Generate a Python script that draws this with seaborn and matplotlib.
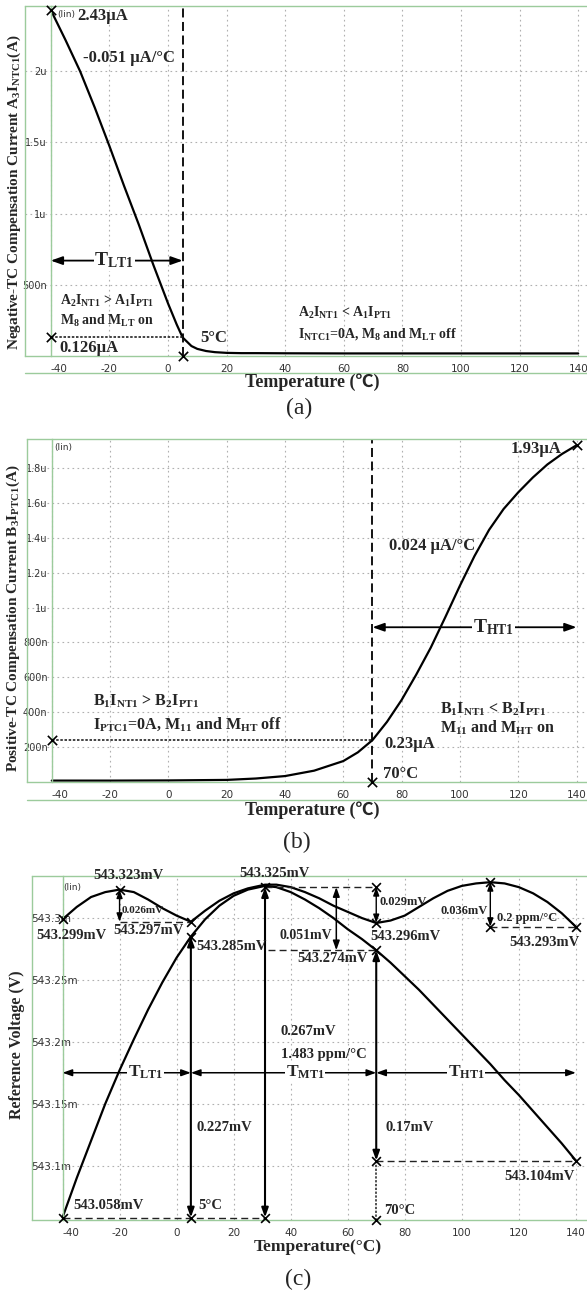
import matplotlib
matplotlib.use("Agg")
import matplotlib.pyplot as plt
import seaborn as sns
from matplotlib.lines import Line2D
from matplotlib.ticker import AutoMinorLocator

# ---------------- data ----------------
xticks = [-40, -20, 0, 20, 40, 60, 80, 100, 120, 140]
xlabels = ['-40', '-20', '0', '20', '40', '60', '80', '100', '120', '140']

# (a) negative-TC compensation current, uA
temp_a = [-40, -35, -30, -25, -20, -15, -10, -5, 0, 3, 5, 8, 10, 13, 16, 20, 25, 30, 40, 60, 80, 100, 120, 140]
ntc_a = [2.43, 2.22, 2.00, 1.745, 1.475, 1.195, 0.925, 0.64, 0.37, 0.22, 0.13, 0.07, 0.05, 0.035, 0.027, 0.022,
         0.02, 0.02, 0.019, 0.018, 0.018, 0.018, 0.018, 0.018]
mark_t_a = [-40, -40, 5]
mark_i_a = [2.43, 0.13, 0.0]
yticks_a = [0.5, 1.0, 1.5, 2.0]
ylabels_a = ['500n', '1u', '1.5u', '2u']

# (b) positive-TC compensation current, uA
temp_b = [-40, -20, 0, 20, 30, 40, 50, 60, 65, 70, 75, 80, 85, 90, 95, 100, 105, 110, 115, 120, 125, 130, 135, 140]
ptc_b = [0.008, 0.008, 0.009, 0.012, 0.02, 0.034, 0.065, 0.12, 0.17, 0.24, 0.345, 0.47, 0.615, 0.77, 0.945,
         1.125, 1.295, 1.445, 1.565, 1.66, 1.745, 1.82, 1.88, 1.93]
mark_t_b = [140, -40, 70]
mark_i_b = [1.93, 0.24, 0.0]
yticks_b = [0.2, 0.4, 0.6, 0.8, 1.0, 1.2, 1.4, 1.6, 1.8]
ylabels_b = ['200n', '400n', '600n', '800n', '1u', '1.2u', '1.4u', '1.6u', '1.8u']

# (c) reference voltage, mV
temp_c = [-40, -35, -30, -25, -20, -15, -10, -5, 0, 5, 10, 15, 20, 25, 31, 35, 40, 45, 50, 55, 60, 65, 70,
          75, 80, 85, 90, 95, 100, 105, 110, 115, 120, 125, 130, 135, 140]
vref_uncomp = [543.058, 543.090, 543.120, 543.150, 543.177, 543.202, 543.226, 543.248, 543.268, 543.285,
               543.299, 543.310, 543.318, 543.323, 543.326, 543.325, 543.321, 543.315, 543.308, 543.300,
               543.291, 543.283, 543.274, 543.264, 543.253, 543.242, 543.230, 543.218, 543.206, 543.194,
               543.182, 543.169, 543.157, 543.144, 543.131, 543.118, 543.104]
vref_comp = [543.299, 543.309, 543.317, 543.321, 543.323, 543.321, 543.315, 543.308, 543.302, 543.297,
             543.306, 543.314, 543.320, 543.324, 543.327, 543.327, 543.325, 543.321, 543.316, 543.310,
             543.305, 543.300, 543.296, 543.298, 543.302, 543.309, 543.316, 543.322, 543.326, 543.328,
             543.329, 543.328, 543.325, 543.320, 543.313, 543.304, 543.293]
mark_t_c = [-40, -20, 5, 5, 31, 70, 70, 70, 110, 110, 140, 140, 70, -40, 5, 31, 70]
mark_v_c = [543.299, 543.323, 543.297, 543.285, 543.325, 543.325, 543.296, 543.274, 543.329, 543.293,
            543.293, 543.104, 543.104, 543.058, 543.058, 543.058, 543.056]
yticks_c = [543.1, 543.15, 543.2, 543.25, 543.3]
ylabels_c = ['543.1m', '543.15m', '543.2m', '543.25m', '543.3m']

# ---------------- style ----------------
sns.set_theme(style='white')
plt.rcParams['font.family'] = ['DejaVu Sans']
plt.rcParams['mathtext.fontset'] = 'custom'
plt.rcParams['mathtext.rm'] = 'Liberation Serif:bold'
plt.rcParams['mathtext.bf'] = 'Liberation Serif:bold'
plt.rcParams['mathtext.it'] = 'Liberation Serif:bold'
plt.rcParams['mathtext.default'] = 'rm'

SERIF = ['Liberation Serif', 'Noto Sans CJK SC']
GREEN = '#9ccb9c'
GRID = '#b0b0b0'
W, H = 587, 1294

fig = plt.figure(figsize=(W / 100, H / 100), dpi=100)


def cadence_axes(ax, xlim, ylim, yticks, ylabels):
    ax.set_xticks(xticks, labels=xlabels)
    ax.set_yticks(yticks, labels=ylabels)
    ax.set_xlim(xlim)
    ax.set_ylim(ylim)
    ax.xaxis.set_minor_locator(AutoMinorLocator(5))
    ax.yaxis.set_minor_locator(AutoMinorLocator(5))
    ax.grid(True, which='major', color=GRID, ls=(0, (1.5, 3)), lw=0.8)
    ax.set_axisbelow(True)
    ax.spines['left'].set_position(('data', -40))
    for s in ('left', 'top', 'bottom'):
        ax.spines[s].set_color(GREEN)
        ax.spines[s].set_linewidth(1.0)
    ax.spines['right'].set_visible(False)
    ax.plot([0, 0], [0, 1], transform=ax.transAxes, color=GREEN, lw=1.0, clip_on=False)
    ax.tick_params(which='both', direction='out', color='#555555', labelcolor='#333333', labelsize=7)
    ax.tick_params(axis='x', which='major', length=4, pad=1.5, labelsize=7.5)
    ax.tick_params(axis='x', which='minor', length=3)
    ax.tick_params(axis='y', which='major', length=2.5, pad=0.5)
    ax.tick_params(axis='y', which='minor', length=2)
    ax.get_xticklabels()[0].set_ha('left')
    ax.set_xlabel('')
    ax.set_ylabel('')


def note(ax, x, y, s, size=10.5, ha='left', **kw):
    ax.text(x, y, s, fontsize=size, fontweight='bold', family=SERIF, ha=ha, va='center', **kw)


def span(ax, x0, y0, x1, y1, scale=9, lw=1.2):
    ax.annotate('', xy=(x1, y1), xytext=(x0, y0),
                arrowprops=dict(arrowstyle='<|-|>,head_length=0.7,head_width=0.25', color='black',
                                lw=lw, mutation_scale=scale, shrinkA=0, shrinkB=0))


def guide(ax, xs, ys, ls=(0, (5, 3)), lw=1.0):
    ax.plot(xs, ys, color='#222222', lw=lw, ls=ls, zorder=3)


def xmarks(ax, xs, ys, s=45):
    sns.scatterplot(x=xs, y=ys, ax=ax, marker='x', color='black', s=s, linewidth=1.2,
                    clip_on=False, zorder=6)


def fig_text(x, y, s, **kw):
    fig.text(x / W, 1 - y / H, s, family=SERIF, ha='center', va='center', **kw)


# ---------------- (a) ----------------
ax_a = fig.add_axes([25 / W, 1 - 356 / H, 562 / W, 350 / H])
sns.lineplot(x=temp_a, y=ntc_a, ax=ax_a, color='black', lw=1.6)
ax_a.axvline(5, color='black', lw=1.3, ls=(0, (5, 2.5)))
guide(ax_a, [-40, 5], [0.13, 0.13], ls=(0, (1.5, 1)), lw=1.2)
xmarks(ax_a, mark_t_a, mark_i_a)
cadence_axes(ax_a, (-48.8, 143.0), (0, 2.458), yticks_a, ylabels_a)
ax_a.text(-37.9, 2.40, '(lin)', fontsize=6.5, color='#333333', va='center')
note(ax_a, -31, 2.39, '2.43μA', size=12)
note(ax_a, -29, 2.09, '-0.051 μA/°C', size=12)
span(ax_a, -40, 0.67, 5, 0.67, scale=10, lw=1.3)
note(ax_a, -18.4, 0.67, 'T$_{LT1}$', size=14, ha='center',
     bbox=dict(fc='white', ec='none', pad=0.5))
note(ax_a, -37, 0.39, 'A$_2$I$_{NT1}$ > A$_1$I$_{PT1}$', size=10)
note(ax_a, -37, 0.246, 'M$_8$ and M$_{LT}$ on', size=10)
note(ax_a, -37, 0.058, '0.126μA', size=12)
note(ax_a, 11, 0.125, '5°C', size=12)
note(ax_a, 44.2, 0.305, 'A$_2$I$_{NT1}$ < A$_1$I$_{PT1}$', size=10)
note(ax_a, 44.2, 0.153, 'I$_{NTC1}$=0A, M$_8$ and M$_{LT}$ off', size=10)
fig.add_artist(Line2D([25 / W, 1], [1 - 373 / H] * 2, color=GREEN, lw=1.0))
fig_text(14, 192, 'Negative-TC Compensation Current A$_3$I$_{NTC1}$(A)', rotation=90,
         fontsize=11, fontweight='bold')
fig_text(312, 382, 'Temperature (℃)', fontsize=13, fontweight='bold')
fig_text(299, 408, '(a)', fontsize=17)

# ---------------- (b) ----------------
ax_b = fig.add_axes([27 / W, 1 - 782 / H, 560 / W, 343 / H])
sns.lineplot(x=temp_b, y=ptc_b, ax=ax_b, color='black', lw=1.6)
ax_b.axvline(70, color='black', lw=1.3, ls=(0, (5, 2.5)))
guide(ax_b, [-40, 70], [0.24, 0.24], ls=(0, (1.5, 1)), lw=1.2)
xmarks(ax_b, mark_t_b, mark_i_b)
cadence_axes(ax_b, (-48.5, 143.6), (0, 1.966), yticks_b, ylabels_b)
ax_b.text(-39.3, 1.92, '(lin)', fontsize=6.5, color='#333333', va='center')
note(ax_b, 134.7, 1.908, '1.93μA', size=12, ha='right')
note(ax_b, 75.6, 1.35, '0.024 μA/°C', size=12)
span(ax_b, 70, 0.887, 140, 0.887, scale=10, lw=1.3)
note(ax_b, 111.5, 0.887, 'T$_{HT1}$', size=14, ha='center',
     bbox=dict(fc='white', ec='none', pad=0.5))
note(ax_b, -26, 0.465, 'B$_1$I$_{NT1}$ > B$_2$I$_{PT1}$', size=11.5)
note(ax_b, -26, 0.33, 'I$_{PTC1}$=0A, M$_{11}$ and M$_{HT}$ off', size=11.5)
note(ax_b, 74, 0.217, '0.23μA', size=12)
note(ax_b, 73.5, 0.044, '70°C', size=12)
note(ax_b, 93.3, 0.418, 'B$_1$I$_{NT1}$ < B$_2$I$_{PT1}$', size=11.5)
note(ax_b, 93.3, 0.312, 'M$_{11}$ and M$_{HT}$ on', size=11.5)
fig.add_artist(Line2D([27 / W, 1], [1 - 800 / H] * 2, color=GREEN, lw=1.0))
fig_text(13, 618, 'Positive-TC Compensation Current B$_3$I$_{PTC1}$(A)', rotation=90,
         fontsize=11, fontweight='bold')
fig_text(312, 810, 'Temperature (℃)', fontsize=13, fontweight='bold')
fig_text(297, 842, '(b)', fontsize=17)

# ---------------- (c) ----------------
ax_c = fig.add_axes([32 / W, 1 - 1220 / H, 555 / W, 344 / H])
sns.lineplot(x=temp_c, y=vref_uncomp, ax=ax_c, color='black', lw=1.6)
sns.lineplot(x=temp_c, y=vref_comp, ax=ax_c, color='black', lw=1.6)
guide(ax_c, [-20, 5], [543.297, 543.297])
guide(ax_c, [31, 70], [543.325, 543.325])
guide(ax_c, [32, 70], [543.274, 543.274])
guide(ax_c, [110, 140], [543.293, 543.293])
guide(ax_c, [70, 140], [543.104, 543.104])
guide(ax_c, [-40, 31], [543.058, 543.058])
guide(ax_c, [70, 70], [543.104, 543.056], ls=(0, (1.5, 1)), lw=1.1)
span(ax_c, -20, 543.323, -20, 543.297, scale=7, lw=1.0)
span(ax_c, 56, 543.325, 56, 543.274, scale=8, lw=1.1)
span(ax_c, 70, 543.325, 70, 543.296, scale=7, lw=1.0)
span(ax_c, 110, 543.329, 110, 543.293, scale=7, lw=1.0)
span(ax_c, 5, 543.058, 5, 543.285, scale=8, lw=1.5)
span(ax_c, 31, 543.058, 31, 543.325, scale=8, lw=1.5)
span(ax_c, 70, 543.274, 70, 543.104, scale=8, lw=1.5)
span(ax_c, -40, 543.175, 5, 543.175, scale=8, lw=1.1)
span(ax_c, 5, 543.175, 70, 543.175, scale=8, lw=1.1)
span(ax_c, 70, 543.175, 140, 543.175, scale=8, lw=1.1)
xmarks(ax_c, mark_t_c, mark_v_c, s=40)
cadence_axes(ax_c, (-50.7, 143.9), (543.056, 543.334), yticks_c, ylabels_c)
ax_c.tick_params(axis='y', which='major', pad=19.9, labelsize=7.5)
for lab in ax_c.get_yticklabels():
    lab.set_ha('left')
ax_c.text(-39.8, 543.325, '(lin)', fontsize=6.5, color='#333333', va='center')
note(ax_c, -17, 543.3345, '543.323mV', ha='center')
note(ax_c, -36.7, 543.286, '543.299mV', ha='center')
note(ax_c, -19.3, 543.306, '0.026mV', size=8)
note(ax_c, -9.7, 543.290, '543.297mV', ha='center')
note(ax_c, 7, 543.277, '543.285mV')
note(ax_c, 34.5, 543.336, '543.325mV', ha='center')
note(ax_c, 54.5, 543.286, '0.051mV', size=10, ha='right')
note(ax_c, 54.8, 543.267, '543.274mV', ha='center')
note(ax_c, 71.3, 543.313, '0.029mV', size=9)
note(ax_c, 80.4, 543.285, '543.296mV', ha='center')
note(ax_c, 109.2, 543.306, '0.036mV', size=9, ha='right')
note(ax_c, 112.2, 543.300, '0.2 ppm/°C', size=9)
note(ax_c, 129, 543.280, '543.293mV', ha='center')
note(ax_c, 36.6, 543.208, '0.267mV', size=10.5)
note(ax_c, 36.6, 543.190, '1.483 ppm/°C', size=10.5)
for tx, lab in zip([-10.8, 45, 101.5], ['T$_{LT1}$', 'T$_{MT1}$', 'T$_{HT1}$']):
    note(ax_c, tx, 543.175, lab, size=12.5, ha='center', bbox=dict(fc='white', ec='none', pad=0.5))
note(ax_c, 7, 543.131, '0.227mV')
note(ax_c, 73.3, 543.131, '0.17mV')
note(ax_c, -36.3, 543.068, '543.058mV')
note(ax_c, 7.6, 543.068, '5°C')
note(ax_c, 72.7, 543.064, '70°C')
note(ax_c, 139.6, 543.091, '543.104mV', ha='right')
fig_text(17, 1045, 'Reference Voltage (V)', rotation=90, fontsize=11.5, fontweight='bold')
fig_text(318, 1247, 'Temperature(°C)', fontsize=12.5, fontweight='bold')
fig_text(298, 1279, '(c)', fontsize=17)

fig.savefig('out.png', dpi=100, facecolor='white')
